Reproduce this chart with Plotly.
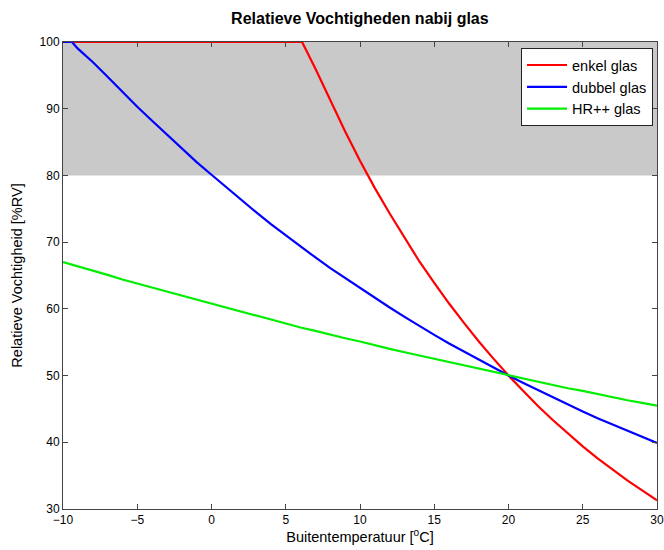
import plotly.graph_objects as go

# Outside temperature [°C] and relative humidity near glass [%RV]
temp_enkel = [-10, 6.1, 7, 8, 9, 10, 11, 12, 13, 14, 15, 16, 17, 18, 19, 20,
              21, 22, 23, 24, 25, 26, 27, 28, 29, 30]
rv_enkel = [100.0, 100.0, 96.0, 91.2, 86.6, 82.2, 78.1, 74.3, 70.6, 67.1, 63.9, 60.8,
            57.9, 55.1, 52.5, 50.0, 47.7, 45.4, 43.3, 41.3, 39.4, 37.6, 35.9, 34.3,
            32.8, 31.3]

temp_dubbel = [-10, -9.4, -9, -8, -7, -6, -5, -4, -3, -2, -1, 0, 1, 2, 3, 4, 5, 6, 7,
               8, 9, 10, 11, 12, 13, 14, 15, 16, 17, 18, 19, 20, 21, 22, 23, 24, 25,
               26, 27, 28, 29, 30]
rv_dubbel = [100.0, 100.0, 99.0, 97.0, 94.8, 92.5, 90.3, 88.2, 86.1, 84.0, 82.0, 80.1,
             78.2, 76.3, 74.5, 72.7, 71.0, 69.3, 67.7, 66.1, 64.6, 63.1, 61.6, 60.2,
             58.8, 57.4, 56.1, 54.8, 53.6, 52.3, 51.2, 50.0, 48.9, 47.8, 46.7, 45.6,
             44.6, 43.6, 42.7, 41.7, 40.8, 39.9]

temp_hr = list(range(-10, 31))
rv_hr = [67.0, 66.4, 65.7, 65.1, 64.4, 63.8, 63.1, 62.5, 61.9, 61.3, 60.7, 60.1, 59.5,
         59.0, 58.4, 57.8, 57.2, 56.7, 56.1, 55.6, 55.1, 54.5, 54.0, 53.5, 53.0, 52.5,
         52.0, 51.5, 51.0, 50.5, 50.0, 49.5, 49.1, 48.6, 48.1, 47.7, 47.2, 46.8, 46.3,
         45.9, 45.5]

series_names = ["enkel glas", "dubbel glas", "HR++ glas"]
series_colors = ["#ff0000", "#0000ff", "#00ee00"]

x_range = [-10, 30]
y_range = [30, 100]
risk_band = [80, 100]

FONT = "Liberation Sans, Arial, Helvetica, sans-serif"

fig = go.Figure()
fig.add_shape(type="rect", xref="x", yref="y", x0=x_range[0], x1=x_range[1],
              y0=risk_band[0], y1=risk_band[1], fillcolor="#c9c9c9",
              line=dict(width=0), layer="below")

for xs, ys, name, col in zip([temp_enkel, temp_dubbel, temp_hr],
                             [rv_enkel, rv_dubbel, rv_hr],
                             series_names, series_colors):
    fig.add_trace(go.Scatter(x=xs, y=ys, mode="lines", name=name,
                             line=dict(color=col, width=2.2)))

axis_common = dict(showgrid=False, zeroline=False, showline=True, linecolor="#444444",
                   linewidth=1, mirror="ticks", ticks="inside", ticklen=5,
                   tickcolor="#444444", automargin=False,
                   tickfont=dict(family=FONT, size=12, color="black"))

fig.update_xaxes(range=x_range, dtick=5, tick0=-10,
                 title=dict(text="Buitentemperatuur [<sup>o</sup>C]",
                            font=dict(family=FONT, size=14.5, color="black"), standoff=3),
                 **axis_common)
fig.update_yaxes(range=y_range, dtick=10, tick0=30,
                 title=dict(text="Relatieve Vochtigheid [%RV]",
                            font=dict(family=FONT, size=14.5, color="black"), standoff=13),
                 **axis_common)

fig.update_layout(
    width=664, height=550,
    margin=dict(l=63, r=7, t=42, b=41),
    paper_bgcolor="white", plot_bgcolor="white",
    title=dict(text="<b>Relatieve Vochtigheden nabij glas</b>",
               font=dict(family=FONT, size=16, color="black"),
               x=0.542, xanchor="center", y=0.967, yanchor="middle"),
    legend=dict(x=0.9933, xanchor="right", y=0.987, yanchor="top",
                bgcolor="white", bordercolor="#222222", borderwidth=1,
                font=dict(family=FONT, size=14.5, color="black"),
                tracegroupgap=0, itemwidth=40),
    showlegend=True,
)

fig.write_html("out.html")
